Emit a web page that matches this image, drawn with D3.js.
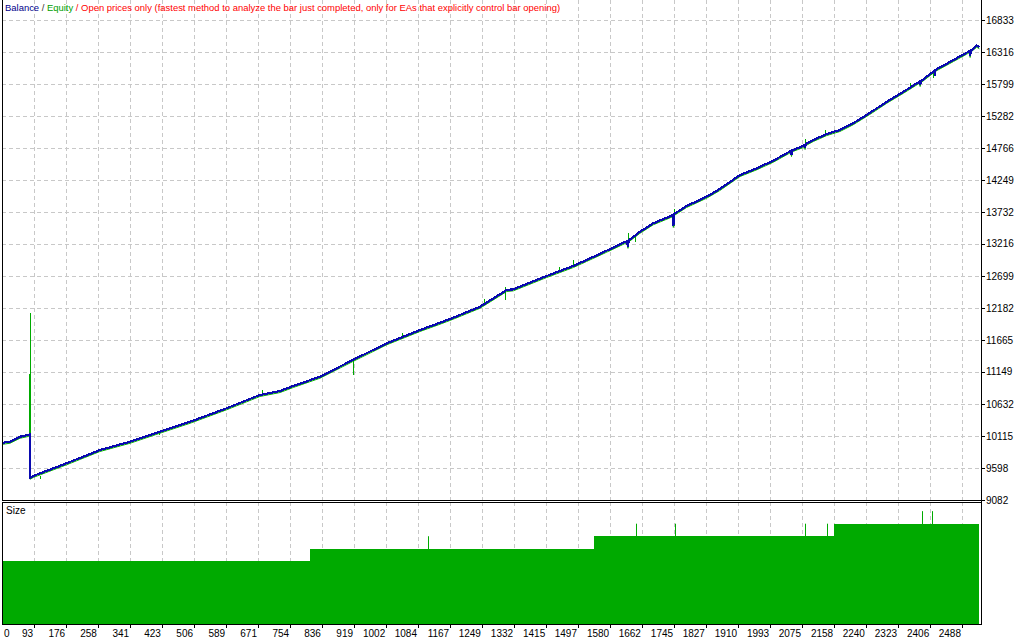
<!DOCTYPE html>
<html>
<head>
<meta charset="utf-8">
<script src="https://cdn.jsdelivr.net/npm/d3@7"></script>
<style>
  html, body { margin: 0; padding: 0; background: #fff; }
  svg { display: block; }
  text { font-family: Tahoma, "Liberation Sans", Arial, sans-serif; font-size: 10px; }
</style>
</head>
<body>
<svg id="chart" width="1024" height="640"></svg>
<script>
// ---------- data ----------
const xTickValues = [0, 93, 176, 258, 341, 423, 506, 589, 671, 754, 836, 919, 1002, 1084, 1167, 1249, 1332, 1415, 1497, 1580, 1662, 1745, 1827, 1910, 1993, 2075, 2158, 2240, 2323, 2406, 2488];
const yTickValues = [9082, 9598, 10115, 10632, 11149, 11665, 12182, 12699, 13216, 13732, 14249, 14766, 15282, 15799, 16316, 16833];

const balanceTrades = [0, 31, 57, 78, 82, 83, 91, 177, 263, 341, 418, 496, 590, 676, 728, 762, 831, 916, 1003, 1089, 1141, 1175, 1244, 1313, 1330, 1416, 1485, 1519, 1571, 1623, 1626, 1628, 1657, 1691, 1741, 1743, 1745, 1777, 1829, 1863, 1915, 1958, 2001, 2046, 2048, 2050, 2078, 2081, 2083, 2085, 2104, 2139, 2173, 2207, 2251, 2294, 2337, 2378, 2380, 2382, 2416, 2418, 2420, 2466, 2500, 2507, 2509, 2511, 2526, 2533];
const balanceValues = [9995, 10023, 10104, 10132, 10140, 9442, 9470, 9675, 9889, 10023, 10185, 10346, 10563, 10778, 10842, 10923, 11073, 11343, 11612, 11827, 11945, 12026, 12203, 12473, 12484, 12699, 12861, 12958, 13108, 13262, 13170, 13275, 13414, 13550, 13680, 13507, 13700, 13829, 13980, 14104, 14330, 14438, 14561, 14718, 14653, 14730, 14798, 14810, 14766, 14830, 14895, 14992, 15057, 15165, 15336, 15514, 15675, 15836, 15783, 15845, 16010, 15972, 16030, 16187, 16305, 16330, 16252, 16340, 16418, 16392];

// equity excursions away from balance (trade, low, high)
const equitySpikeTrades = [81, 82, 108, 416, 681, 915, 1042, 1255, 1309, 1448, 1485, 1627, 1644, 1744, 2083, 2135, 2354, 2413];
const equitySpikeLow  = [10132, 10132, 9420, 10136, 10778, 11100, 11700, 12230, 12312, 12760, 12861, 13262, 13253, 13507, 14766, 14980, 15740, 15892];
const equitySpikeHigh = [11117, 12102, 9470, 10185, 10858, 11343, 11779, 12328, 12526, 12849, 12958, 13398, 13340, 13781, 14906, 15057, 15821, 15993];

const sizeStepTrades = [0, 805, 1538, 2158, 2533];
const sizeStepValues = [0.5, 0.6, 0.7, 0.8, 0.8];
const sizeSpikeTrades = [1110, 1647, 1747, 2083, 2140, 2385, 2411];
const sizeSpikeValues = [0.7, 0.8, 0.8, 0.8, 0.8, 0.9, 0.9];

const legendParts = ["Balance", " / ", "Equity", " / Open prices only (fastest method to analyze the bar just completed, only for EAs that explicitly control bar opening)"];
const legendColors = ["#00008B", "#333333", "#00A000", "#FF0000"];

// ---------- layout ----------
const L = 2, R = 981, mainTop = 0, mainBottom = 500, subTop = 502, subBottom = 624;
const svg = d3.select("#chart");

const x = d3.scaleLinear().domain([93, 2488]).range([34, 962]);
const y = d3.scaleLinear().domain([9082, 16833]).range([500, 20]);
const ys = d3.scaleLinear().domain([0, 0.965]).range([624, 503]);

const GRID = "#C8C8C8";
const BLUE = "#0A0AB0";
const GREEN = "#00AA00";

svg.append("defs").append("clipPath").attr("id", "clipMain")
  .append("rect").attr("x", L + 1).attr("y", mainTop).attr("width", R - L - 1).attr("height", mainBottom - mainTop);
svg.select("defs").append("clipPath").attr("id", "clipSub")
  .append("rect").attr("x", L + 1).attr("y", subTop + 1).attr("width", R - L - 1).attr("height", subBottom - subTop - 1);

// grid - vertical
const gridX = xTickValues.filter(v => x(v) > L + 4);
[[mainTop, mainBottom], [subTop, subBottom]].forEach(([t, b]) => {
  svg.append("g").selectAll("line").data(gridX).join("line")
    .attr("x1", d => Math.round(x(d)) + 0.5).attr("x2", d => Math.round(x(d)) + 0.5)
    .attr("y1", t).attr("y2", b)
    .attr("stroke", GRID).attr("stroke-dasharray", "4,3");
});
// grid - horizontal
svg.append("g").selectAll("line").data(yTickValues.filter(v => v > 9082)).join("line")
  .attr("x1", L).attr("x2", R)
  .attr("y1", d => Math.round(y(d)) + 0.5).attr("y2", d => Math.round(y(d)) + 0.5)
  .attr("stroke", GRID).attr("stroke-dasharray", "4,3");

// ---------- main panel ----------
const mainG = svg.append("g").attr("clip-path", "url(#clipMain)");
const balPts = balanceTrades.map((t, i) => [t, balanceValues[i]]);
const line = d3.line().x(d => x(d[0])).y(d => y(d[1]));

// equity follows balance, with excursions
mainG.append("path").attr("d", line(balPts)).attr("fill", "none")
  .attr("stroke", GREEN).attr("stroke-width", 1).attr("transform", "translate(0,1.5)");
mainG.append("g").selectAll("line").data(equitySpikeTrades).join("line")
  .attr("x1", d => Math.round(x(d)) + 0.5).attr("x2", d => Math.round(x(d)) + 0.5)
  .attr("y1", (d, i) => y(equitySpikeLow[i])).attr("y2", (d, i) => y(equitySpikeHigh[i]))
  .attr("stroke", GREEN).attr("stroke-width", (d, i) => i === 0 ? 2 : 1)
  .attr("shape-rendering", "crispEdges");

mainG.append("path").attr("d", line(balPts)).attr("fill", "none")
  .attr("stroke", BLUE).attr("stroke-width", 2.2).attr("stroke-linejoin", "miter")
  .attr("shape-rendering", "crispEdges");

// ---------- size panel ----------
const subG = svg.append("g").attr("clip-path", "url(#clipSub)");
const stepPts = sizeStepTrades.map((t, i) => [t, sizeStepValues[i]]);
subG.append("path")
  .attr("d", d3.area().curve(d3.curveStepAfter).x(d => x(d[0])).y0(ys(0)).y1(d => ys(d[1]))(stepPts))
  .attr("fill", GREEN).attr("shape-rendering", "crispEdges");
subG.append("g").selectAll("line").data(sizeSpikeTrades).join("line")
  .attr("x1", d => Math.round(x(d)) + 0.5).attr("x2", d => Math.round(x(d)) + 0.5)
  .attr("y1", ys(0)).attr("y2", (d, i) => ys(sizeSpikeValues[i]))
  .attr("stroke", GREEN).attr("stroke-width", 1);

// ---------- frames ----------
const frame = svg.append("g").attr("stroke", "#000").attr("fill", "none");
frame.append("line").attr("x1", L + 0.5).attr("x2", L + 0.5).attr("y1", mainTop).attr("y2", mainBottom);
frame.append("line").attr("x1", R + 0.5).attr("x2", R + 0.5).attr("y1", mainTop).attr("y2", subBottom + 1);
frame.append("line").attr("x1", L).attr("x2", R + 1).attr("y1", mainBottom + 0.5).attr("y2", mainBottom + 0.5);
frame.append("rect").attr("x", L + 0.5).attr("y", subTop + 0.5).attr("width", R - L).attr("height", subBottom - subTop);

// ---------- right axis ----------
const yAx = svg.append("g");
yAx.selectAll("line").data(yTickValues).join("line")
  .attr("x1", R).attr("x2", R + 4)
  .attr("y1", d => Math.round(y(d)) + 0.5).attr("y2", d => Math.round(y(d)) + 0.5)
  .attr("stroke", "#000");
yAx.selectAll("text").data(yTickValues).join("text")
  .attr("x", R + 5).attr("y", d => y(d)).attr("dy", "0.35em")
  .attr("fill", "#000").text(d => d);

// ---------- bottom axis ----------
const xAx = svg.append("g");
xAx.selectAll("line").data(gridX).join("line")
  .attr("x1", d => Math.round(x(d)) + 0.5).attr("x2", d => Math.round(x(d)) + 0.5)
  .attr("y1", subBottom).attr("y2", subBottom + 4).attr("stroke", "#000");
xAx.selectAll("text").data(xTickValues).join("text")
  .attr("x", d => x(d) > L + 4 ? x(d) - 1 : L + 2)
  .attr("text-anchor", d => x(d) > L + 4 ? "end" : "start")
  .attr("y", 637).attr("fill", "#000").text(d => d);

// ---------- titles ----------
svg.append("text").attr("x", 6).attr("y", 514).attr("fill", "#000").text("Size");
const leg = svg.append("text").attr("x", 5).attr("y", 11).style("font-size", "9.45px");
legendParts.forEach((p, i) => leg.append("tspan").attr("fill", legendColors[i]).attr("xml:space", "preserve").text(p));
</script>
</body>
</html>
